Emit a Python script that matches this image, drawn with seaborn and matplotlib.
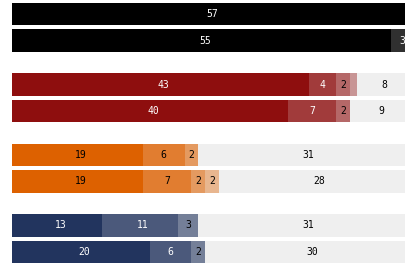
import numpy as np
import pandas as pd
import seaborn as sns
import matplotlib.pyplot as plt

# data: 8 stacked rows (2 per colour group), shade levels 1..4 then the grey remainder
groups = ['black', 'black', 'red', 'red', 'orange', 'orange', 'navy', 'navy']
rows = ['k1', 'k2', 'r1', 'r2', 'o1', 'o2', 'n1', 'n2']
level1 = [57, 55, 43, 40, 19, 19, 13, 20]
level2 = [0, 3, 4, 7, 6, 7, 11, 6]
level3 = [0, 0, 2, 2, 2, 2, 3, 2]
level4 = [0, 0, 1, 0, 0, 2, 0, 0]
rest = [0, 0, 8, 9, 31, 28, 31, 30]

base_colors = {'black': '#000000', 'red': '#8e0e0e', 'orange': '#dd6100', 'navy': '#22345e'}
grey = '#efefef'
# text colour per level, per group
text_colors = {
    'black': ['white', 'white', 'black', 'black', 'black'],
    'red': ['white', 'white', 'black', 'black', 'black'],
    'orange': ['black', 'black', 'black', 'black', 'black'],
    'navy': ['white', 'white', 'black', 'black', 'black'],
}


def to_rgb(hex_color):
    return np.array([int(hex_color[i:i + 2], 16) for i in (1, 3, 5)]) / 255


def shade(hex_color, t):
    # blend towards the grey background colour
    rgb = to_rgb(hex_color)
    return tuple(rgb + (to_rgb(grey) - rgb) * t)


df = pd.DataFrame({'group': groups, 'row': rows, 'l1': level1, 'l2': level2,
                   'l3': level3, 'l4': level4, 'rest': rest})
levels = ['l1', 'l2', 'l3', 'l4', 'rest']

W, H = 406, 268
fig = plt.figure(figsize=(W / 100, H / 100), dpi=100)
x0 = 12
px_per_unit = 6.9

for k, g in enumerate(['black', 'red', 'orange', 'navy']):
    top = 0.75 + 70.5 * k
    ax = fig.add_axes([x0 / W, 1 - (top + 53) / H, (W - x0) / W, 53 / H])
    sub = df[df['group'] == g].reset_index(drop=True)
    cum = sub[levels].cumsum(axis=1)
    colors = [shade(base_colors[g], t) for t in (0, 0.2, 0.4, 0.6)] + [grey]
    # draw longest cumulative first so the shorter ones sit on top
    for i in range(len(levels) - 1, -1, -1):
        sns.barplot(x=cum[levels[i]], y=sub['row'], color=colors[i], orient='h',
                    width=0.85, saturation=1, linewidth=0, ax=ax)
    for r in range(len(sub)):
        for i, lv in enumerate(levels):
            v = sub.loc[r, lv]
            if v < 2:
                continue
            mid = cum.loc[r, lv] - v / 2
            label = str(v)
            ax.annotate(label, (mid, r), xytext=(2.5 * (len(label) - 1), 0),
                        textcoords='offset points', ha='center', va='center',
                        fontsize=7, family='DejaVu Sans Mono',
                        color=text_colors[g][i])
    ax.set_xlim(0, (W - x0) / px_per_unit)
    ax.set_ylim(1.5, -0.5)
    ax.set_axis_off()

fig.savefig('out.png', dpi=100)
